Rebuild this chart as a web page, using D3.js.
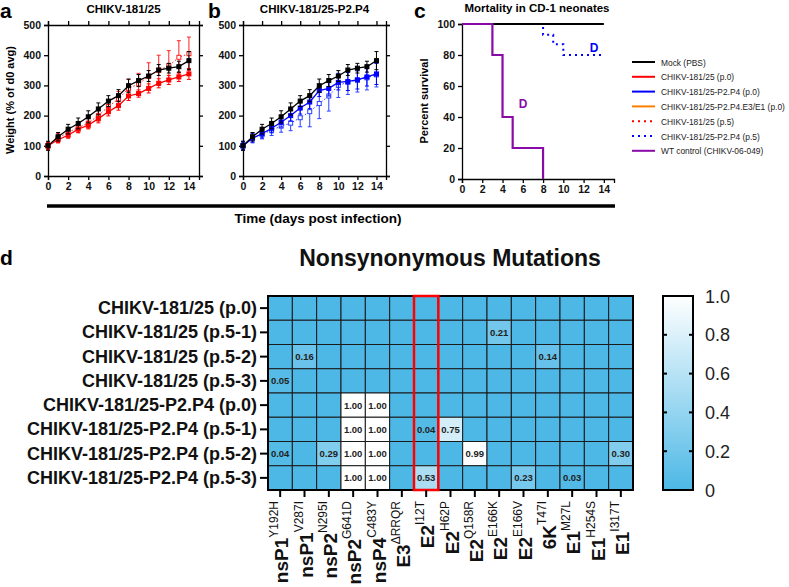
<!DOCTYPE html>
<html>
<head>
<meta charset="utf-8">
<script src="https://cdn.jsdelivr.net/npm/d3@7"></script>
<style>
  body { margin: 0; background: #fff; }
  svg { font-family: "Liberation Sans", Arial, sans-serif; }
</style>
</head>
<body>
<svg width="789" height="587"></svg>
<script>
// ---- data ----
const days = [0, 1, 2, 3, 4, 5, 6, 7, 8, 9, 10, 11, 12, 13, 14]

const mockWeight = [100, 130, 155, 174, 196, 222, 248, 266, 299, 316, 331, 351, 357, 362, 382]
const mockErr = [15, 14, 16, 18, 20, 20, 18, 20, 22, 20, 18, 18, 16, 18, 30]

const wt181p0 = [100, 120, 135, 155, 168, 190, 213, 233, 265, 273, 290, 307, 318, 328, 338]
const wt181p0Err = [10, 10, 10, 12, 12, 14, 14, 15, 15, 12, 15, 15, 15, 15, 18]

const wt181p5 = [100, 125, 145, 160, 175, 200, 230, 255, 290, 305, 330, 350, 365, 393, 405]
const wt181p5Err = [12, 15, 15, 16, 16, 18, 20, 25, 30, 35, 45, 50, 50, 55, 55]

const wtP2P4p0 = [100, 125, 140, 158, 178, 200, 225, 245, 283, 290, 310, 313, 318, 328, 338]
const wtP2P4p0Err = [12, 15, 14, 15, 16, 18, 20, 22, 20, 25, 25, 30, 30, 30, 35]

const wtP2P4p5 = [100, 128, 138, 152, 165, 175, 193, 213, 240, 265, 300, 310, 318, 325, 335]
const wtP2P4p5Err = [15, 15, 15, 18, 20, 25, 30, 50, 50, 50, 40, 40, 40, 40, 40]

const survMockT = [0, 14]
const survMock = [100, 100]
const survWtT = [0, 3, 4, 5, 8]
const survWt = [100, 80, 40, 20, 0]
const survP2P4p5T = [0, 8, 9, 10, 14]
const survP2P4p5 = [100, 93, 87, 80, 80]

const legendLabels = ['Mock (PBS)', 'CHIKV-181/25 (p.0)', 'CHIKV-181/25-P2.P4 (p.0)',
  'CHIKV-181/25-P2.P4.E3/E1 (p.0)', 'CHIKV-181/25 (p.5)', 'CHIKV-181/25-P2.P4 (p.5)',
  'WT control (CHIKV-06-049)']
const legendColors = ['#000', '#ff0000', '#0000ff', '#ff8000', '#ff0000', '#0000ff', '#8a0aa8']
const legendDotted = [false, false, false, false, true, true, false]

const rowLabels = ['CHIKV-181/25 (p.0)', 'CHIKV-181/25 (p.5-1)', 'CHIKV-181/25 (p.5-2)',
  'CHIKV-181/25 (p.5-3)', 'CHIKV-181/25-P2.P4 (p.0)', 'CHIKV-181/25-P2.P4 (p.5-1)',
  'CHIKV-181/25-P2.P4 (p.5-2)', 'CHIKV-181/25-P2.P4 (p.5-3)']
const genes = ['nsP1', 'nsP1', 'nsP2', 'nsP2', 'nsP4', 'E3', 'E2', 'E2', 'E2', 'E2', 'E2', '6K', 'E1', 'E1', 'E1']
const sites = ['Y192H', 'V287I', 'N295I', 'G641D', 'C483Y', '\u0394RRQR', 'I12T', 'H62P', 'Q158R',
  'E166K', 'E166V', 'T47I', 'M27L', 'H254S', 'I317T']
const freq = [
  [0, 0, 0, 0, 0, 0, 0, 0, 0, 0, 0, 0, 0, 0, 0],
  [0, 0, 0, 0, 0, 0, 0, 0, 0, 0.21, 0, 0, 0, 0, 0],
  [0, 0.16, 0, 0, 0, 0, 0, 0, 0, 0, 0, 0.14, 0, 0, 0],
  [0.05, 0, 0, 0, 0, 0, 0, 0, 0, 0, 0, 0, 0, 0, 0],
  [0, 0, 0, 1, 1, 0, 0, 0, 0, 0, 0, 0, 0, 0, 0],
  [0, 0, 0, 1, 1, 0, 0.04, 0.75, 0, 0, 0, 0, 0, 0, 0],
  [0.04, 0, 0.29, 1, 1, 0, 0, 0, 0.99, 0, 0, 0, 0, 0, 0.30],
  [0, 0, 0, 1, 1, 0, 0.53, 0, 0, 0, 0.23, 0, 0.03, 0, 0]
]
const highlightCol = 6
const colorTicks = [0, 0.2, 0.4, 0.6, 0.8, 1.0]

// ---- drawing ----
const svg = d3.select('svg')
const bold = 'bold'

function panelLetter(txt, x, y) {
  svg.append('text').attr('x', x).attr('y', y).attr('font-size', 21)
    .attr('font-weight', bold).text(txt)
}

function drawWeightPanel(x0, x1, title, series) {
  const x = d3.scaleLinear().domain([0, 15]).range([x0, x1])
  const y = d3.scaleLinear().domain([0, 500]).range([176, 25])
  const g = svg.append('g')

  g.append('g').attr('transform', 'translate(0,176)')
    .call(d3.axisBottom(x).tickValues(d3.range(0, 15, 2)).tickSize(4).tickFormat(d3.format('d')))
  g.append('g').attr('transform', 'translate(0,25)')
    .call(d3.axisTop(x).tickValues(d3.range(0, 15, 2)).tickSize(4).tickFormat(''))
  g.append('g').attr('transform', `translate(${x0},0)`)
    .call(d3.axisLeft(y).ticks(5).tickSize(4))
  g.append('g').attr('transform', `translate(${x1},0)`)
    .call(d3.axisRight(y).ticks(5).tickSize(4).tickFormat(''))
  g.selectAll('.domain').attr('stroke-width', 1.3)
  g.selectAll('.tick line').attr('stroke-width', 1.3)
  g.selectAll('.tick text').attr('font-size', 10.5).attr('font-weight', bold).attr('fill', '#111')

  svg.append('text').attr('x', (x0 + x1) / 2).attr('y', 13).attr('text-anchor', 'middle')
    .attr('font-size', 11.5).attr('font-weight', bold).text(title)

  series.forEach(s => {
    const pts = days.map((d, i) => ({ d, v: s.values[i], e: s.err[i] }))
    const sg = g.append('g').attr('stroke', s.color).attr('fill', 'none')
    sg.selectAll('.eb').data(pts).join('line')
      .attr('x1', p => x(p.d)).attr('x2', p => x(p.d))
      .attr('y1', p => y(p.v - p.e)).attr('y2', p => y(p.v + p.e)).attr('stroke-width', 1)
    sg.selectAll('.cap').data(pts.flatMap(p => [p.v - p.e, p.v + p.e].map(v => ({ d: p.d, v }))))
      .join('line')
      .attr('x1', p => x(p.d) - 2).attr('x2', p => x(p.d) + 2)
      .attr('y1', p => y(p.v)).attr('y2', p => y(p.v)).attr('stroke-width', 1)
    sg.append('path').datum(pts)
      .attr('d', d3.line().x(p => x(p.d)).y(p => y(p.v)))
      .attr('stroke-width', s.dotted ? 1 : 1.3)
      .attr('stroke-dasharray', s.dotted ? '1.5,2' : null)
    sg.selectAll('rect').data(pts).join('rect')
      .attr('x', p => x(p.d) - 2).attr('y', p => y(p.v) - 2)
      .attr('width', 4).attr('height', 4)
      .attr('fill', s.dotted ? '#fff' : s.color).attr('stroke-width', 1)
  })
}

panelLetter('a', 0, 18)
panelLetter('b', 208, 18)
panelLetter('c', 414, 18)
panelLetter('d', 0, 265)

drawWeightPanel(48, 199, 'CHIKV-181/25', [
  { values: wt181p5, err: wt181p5Err, color: '#ff2020', dotted: true },
  { values: wt181p0, err: wt181p0Err, color: '#ff0000', dotted: false },
  { values: mockWeight, err: mockErr, color: '#000', dotted: false }
])
drawWeightPanel(243, 386, 'CHIKV-181/25-P2.P4', [
  { values: wtP2P4p5, err: wtP2P4p5Err, color: '#2a40ff', dotted: true },
  { values: wtP2P4p0, err: wtP2P4p0Err, color: '#0000ff', dotted: false },
  { values: mockWeight, err: mockErr, color: '#000', dotted: false }
])

svg.append('text').attr('transform', 'translate(14,100) rotate(-90)')
  .attr('text-anchor', 'middle').attr('font-size', 11).attr('font-weight', bold)
  .text('Weight (% of d0 avg)')

// panel c: survival
{
  const x = d3.scaleLinear().domain([0, 15]).range([462, 614])
  const y = d3.scaleLinear().domain([0, 100]).range([179, 24])
  const g = svg.append('g')
  g.append('g').attr('transform', 'translate(0,179)')
    .call(d3.axisBottom(x).tickValues(d3.range(0, 15, 2)).tickSize(4))
  g.append('g').attr('transform', 'translate(462,0)')
    .call(d3.axisLeft(y).tickValues(d3.range(0, 101, 20)).tickSize(4))
  g.selectAll('.domain').attr('stroke-width', 1.3)
  g.selectAll('.tick line').attr('stroke-width', 1.3)
  g.selectAll('.tick text').attr('font-size', 10.5).attr('font-weight', bold).attr('fill', '#111')

  const step = d3.line().curve(d3.curveStepAfter).x(p => x(p[0])).y(p => y(p[1]))
  g.append('path').datum(d3.zip(survP2P4p5T, survP2P4p5)).attr('d', step)
    .attr('fill', 'none').attr('stroke', '#0000ff').attr('stroke-width', 2)
    .attr('stroke-dasharray', '2,4')
  g.append('path').datum(d3.zip(survMockT, survMock)).attr('d', step)
    .attr('fill', 'none').attr('stroke', '#000').attr('stroke-width', 2)
  g.append('path').datum(d3.zip(survWtT, survWt)).attr('d', step)
    .attr('fill', 'none').attr('stroke', '#8a0aa8').attr('stroke-width', 2.2)

  g.append('text').attr('x', x(5.6)).attr('y', y(46)).attr('fill', '#8a0aa8')
    .attr('font-size', 12).attr('font-weight', bold).text('D')
  g.append('text').attr('x', x(12.6)).attr('y', y(82)).attr('fill', '#0000ff')
    .attr('font-size', 12).attr('font-weight', bold).text('D')

  svg.append('text').attr('x', 537).attr('y', 12).attr('text-anchor', 'middle')
    .attr('font-size', 11.5).attr('font-weight', bold).text('Mortality in CD-1 neonates')
  svg.append('text').attr('transform', 'translate(428,101) rotate(-90)')
    .attr('text-anchor', 'middle').attr('font-size', 11).attr('font-weight', bold)
    .text('Percent survival')

  const lg = svg.append('g').attr('transform', 'translate(632,62)')
  legendLabels.forEach((lab, i) => {
    const yy = i * 14.8
    lg.append('line').attr('x1', 0).attr('x2', 23).attr('y1', yy).attr('y2', yy)
      .attr('stroke', legendColors[i]).attr('stroke-width', 2)
      .attr('stroke-dasharray', legendDotted[i] ? '2,4' : null)
    lg.append('text').attr('x', 29).attr('y', yy + 3.5).attr('font-size', 8.4)
      .attr('fill', '#222').text(lab)
  })
}

// shared time axis
svg.append('line').attr('x1', 47).attr('x2', 615).attr('y1', 206).attr('y2', 206)
  .attr('stroke', '#000').attr('stroke-width', 3.5)
svg.append('text').attr('x', 318).attr('y', 223).attr('text-anchor', 'middle')
  .attr('font-size', 13.5).attr('font-weight', bold).attr('font-stretch', 'condensed')
  .text('Time (days post infection)')

// panel d: heatmap
{
  const left = 268, right = 633, top = 296, bottom = 490
  const xb = d3.scaleBand().domain(d3.range(sites.length)).range([left, right])
  const yb = d3.scaleBand().domain(d3.range(rowLabels.length)).range([top, bottom])
  const color = d3.scaleLinear().domain([0, 1]).range(['#4db8e6', '#ffffff'])
    .interpolate(d3.interpolateRgb)

  svg.append('text').attr('x', 450).attr('y', 266).attr('text-anchor', 'middle')
    .attr('font-size', 23).attr('font-weight', bold).attr('fill', '#111')
    .text('Nonsynonymous Mutations')

  const cells = freq.flatMap((row, r) => row.map((v, c) => ({ r, c, v })))
  const g = svg.append('g')
  g.selectAll('rect').data(cells).join('rect')
    .attr('x', d => xb(d.c)).attr('y', d => yb(d.r))
    .attr('width', xb.bandwidth()).attr('height', yb.bandwidth())
    .attr('fill', d => color(d.v)).attr('stroke', '#1a1a1a').attr('stroke-width', 1)
  g.selectAll('text').data(cells.filter(d => d.v > 0)).join('text')
    .attr('x', d => xb(d.c) + xb.bandwidth() / 2).attr('y', d => yb(d.r) + yb.bandwidth() / 2 + 3.5)
    .attr('text-anchor', 'middle').attr('font-size', 9.5).attr('font-weight', bold).attr('fill', '#222')
    .text(d => d3.format('.2f')(d.v))
  g.append('rect').attr('x', left).attr('y', top).attr('width', right - left).attr('height', bottom - top)
    .attr('fill', 'none').attr('stroke', '#000').attr('stroke-width', 2)
  g.append('rect').attr('x', xb(highlightCol)).attr('y', top).attr('width', xb.bandwidth())
    .attr('height', bottom - top).attr('fill', 'none').attr('stroke', '#ff0000').attr('stroke-width', 2.5)

  // row labels with ticks
  rowLabels.forEach((lab, i) => {
    const cy = yb(i) + yb.bandwidth() / 2
    svg.append('line').attr('x1', left - 8).attr('x2', left).attr('y1', cy).attr('y2', cy)
      .attr('stroke', '#000').attr('stroke-width', 2)
    svg.append('text').attr('x', left - 11).attr('y', cy + 6).attr('text-anchor', 'end')
      .attr('font-size', 18).attr('font-weight', bold).attr('fill', '#111').text(lab)
  })

  // column labels
  sites.forEach((s, i) => {
    const cx = xb(i) + xb.bandwidth() / 2
    svg.append('line').attr('x1', cx).attr('x2', cx).attr('y1', bottom).attr('y2', bottom + 7)
      .attr('stroke', '#000').attr('stroke-width', 2)
    const t = svg.append('text').attr('transform', `translate(${cx + 8},${bottom + 11}) rotate(-90)`)
      .attr('text-anchor', 'end').attr('fill', '#111')
    t.append('tspan').attr('font-size', 19).attr('font-weight', bold).text(genes[i])
    t.append('tspan').attr('font-size', 12).attr('dy', -10).text(s)
  })

  // colour bar
  const cbX = 663, cbW = 30
  const defs = svg.append('defs')
  const grad = defs.append('linearGradient').attr('id', 'cb').attr('x1', 0).attr('x2', 0)
    .attr('y1', 1).attr('y2', 0)
  grad.append('stop').attr('offset', 0).attr('stop-color', color(0))
  grad.append('stop').attr('offset', 1).attr('stop-color', color(1))
  const cy = d3.scaleLinear().domain([0, 1]).range([bottom, top])
  svg.append('rect').attr('x', cbX).attr('y', top).attr('width', cbW).attr('height', bottom - top)
    .attr('fill', 'url(#cb)').attr('stroke', '#000').attr('stroke-width', 2)
  colorTicks.forEach(v => {
    if (v > 0 && v < 1) {
      svg.append('line').attr('x1', cbX).attr('x2', cbX + 4).attr('y1', cy(v)).attr('y2', cy(v))
        .attr('stroke', '#000').attr('stroke-width', 2)
      svg.append('line').attr('x1', cbX + cbW - 4).attr('x2', cbX + cbW).attr('y1', cy(v)).attr('y2', cy(v))
        .attr('stroke', '#000').attr('stroke-width', 2)
    }
    svg.append('text').attr('x', 705).attr('y', cy(v) + 6.5).attr('font-size', 18).attr('fill', '#222')
      .text(v === 0 ? '0' : d3.format('.1f')(v))
  })
}
</script>
</body>
</html>
